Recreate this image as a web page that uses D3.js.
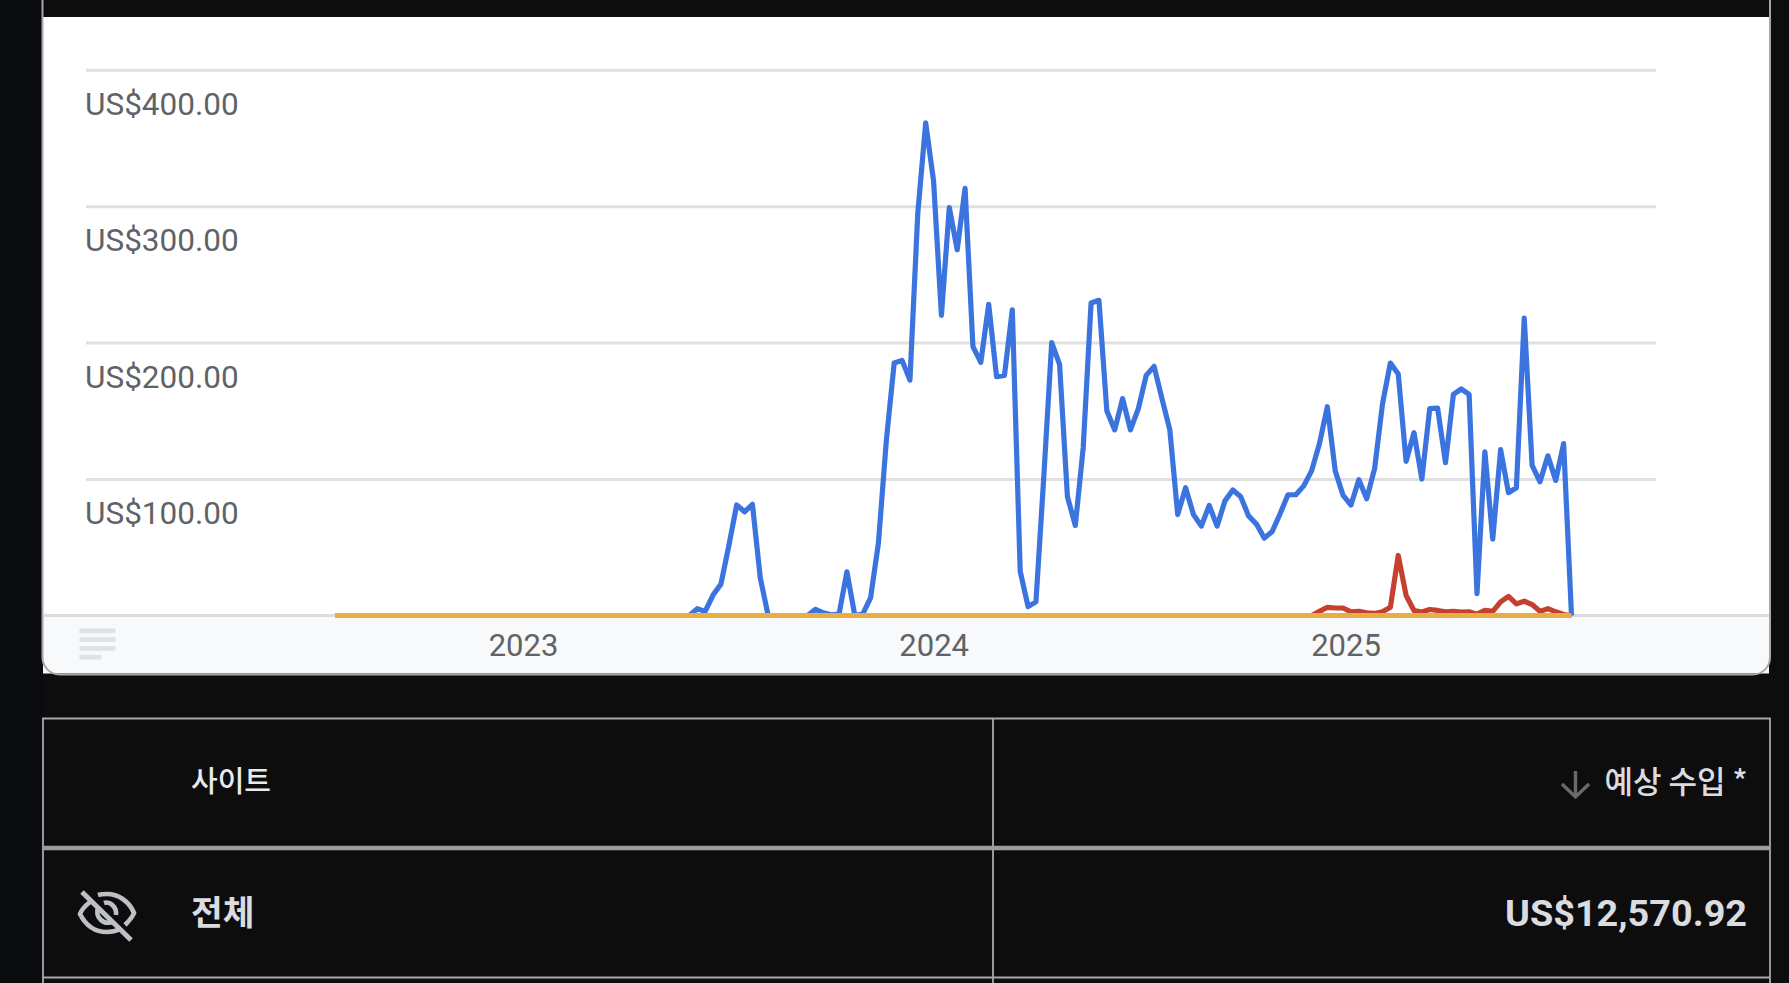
<!DOCTYPE html>
<html><head><meta charset="utf-8">
<script src="https://cdn.jsdelivr.net/npm/d3@7/dist/d3.min.js"></script>
<style>
html,body{margin:0;padding:0;background:#0a0b0e;overflow:hidden}
svg{display:block}
text{font-family:Roboto,"Noto Sans CJK KR",sans-serif}
.ko{font-family:"Noto Sans CJK KR",Roboto,sans-serif}
</style></head><body>
<svg id="c" width="1789" height="983"></svg>
<script>
const firstWeek = "2022-07-17";
const blueValues = [
0,0,0,0,0,0,0,0,0,0,0,0,0,0,0,0,0,0,0,0,0,0,0,0,0,0,0,0,0,0,0,0,0,0,0,0,0,0,0,0,0,0,0,0,0,0,
5,3,15,23,51,81,76,81.5,27.5,0,0,0,0,0,0,4.5,2,0.5,1,32,0,1,13,53,128,185,187,172.5,295,361,
318.5,220,299,268,313,197,185.5,228,175,176,224,32.5,6.5,10,102,200,184,87,66,123,229,231,150,136,159,
136,151.6,176,182.6,159,136,74,93.6,74,65.5,80.7,65.5,84,92,87,73,67,56.7,61.6,74.6,88.5,88.5,95,106,
126,153,106,88,81,99.5,85.6,107.6,155,185,177,113,134,100,151.6,152,112,162,166,162,16,120,56,121.5,
90,93.6,218,110,98,117,99,126,0];
const redValues = [
0,0,0,0,0,0,0,0,0,0,0,0,0,0,0,0,0,0,0,0,0,0,0,0,0,0,0,0,0,0,0,0,0,0,0,0,0,0,0,0,0,0,0,0,0,0,
0,0,0,0,0,0,0,0,0,0,0,0,0,0,0,0,0,0,0,0,0,0,0,0,0,0,0,0,0,0,0,0,0,0,0,0,0,0,0,0,0,0,0,0,0,0,
0,0,0,0,0,0,0,0,0,0,0,0,0,0,0,0,0,0,0,0,0,0,0,0,0,0,0,0,0,0,0,0,0,
3,6,5.5,5.5,2.7,3,2,1.5,2.7,6,44,14.7,3.7,2.5,4.4,3.7,2.7,3,2.5,2.7,1,3.7,3,10,14,8.5,10.5,8,3,5,2.7,0.7,0];
const orangeValues = [
0,0,0,0,0,0,0,0,0,0,0,0,0,0,0,0,0,0,0,0,0,0,0,0,0,0,0,0,0,0,0,0,0,0,0,0,0,0,0,0,0,0,0,0,0,0,
0,0,0,0,0,0,0,0,0,0,0,0,0,0,0,0,0,0,0,0,0,0,0,0,0,0,0,0,0,0,0,0,0,0,0,0,0,0,0,0,0,0,0,0,0,0,
0,0,0,0,0,0,0,0,0,0,0,0,0,0,0,0,0,0,0,0,0,0,0,0,0,0,0,0,0,0,0,0,0,
0,0,0,0,0,0,0,0,0,0,0,0,0,0,0,0,0,0,0,0,0,0,0,0,0,0,0,0,0,0,0,0,0];
const yTicks = [100,200,300,400];
const yearTicks = ["2023-01-01","2024-01-01","2025-01-01"];
const tableHeader = ["사이트","예상 수입 *"];
const totalRow = ["전체","US$12,570.92"];

const svg = d3.select("#c");
const bg="#0d0d0e", border="#a8a8a8";
svg.append("rect").attr("x",43).attr("y",0).attr("width",1746).attr("height",983).attr("fill",bg);

// card
svg.append("rect").attr("x",43).attr("y",17).attr("width",1726).attr("height",599).attr("fill","#fff");
svg.append("rect").attr("x",43).attr("y",616).attr("width",1726).attr("height",57.5).attr("fill","#f8f9fa");
svg.append("path").attr("fill","none").attr("stroke",border).attr("stroke-width",2)
  .attr("d","M42.5,0V657a17,17 0 0 0 17,17.5H1753a17,17 0 0 0 17,-17.5V0");

const parse=d3.utcParse("%Y-%m-%d");
const start=parse(firstWeek);
const dates=blueValues.map((_,i)=>d3.utcDay.offset(start,i*7));
const x=d3.scaleUtc().domain([dates[0],dates[dates.length-1]]).range([335,1571.5]);
const y=d3.scaleLinear().domain([0,400]).range([615.5,69.7]);

// grid + y labels
const gy=svg.append("g").attr("transform","translate(86,0)")
  .call(d3.axisRight(y).tickValues(yTicks).tickSize(1570).tickFormat(d=>"US$"+d3.format(".2f")(d)));
gy.select(".domain").remove();
gy.selectAll("line").attr("stroke","#e0e0e0").attr("stroke-width",3);
gy.selectAll("text").attr("x",-1).attr("dy",0).attr("y",44.5).attr("text-anchor","start")
  .attr("fill","#5f6368").style("font-size","31.5px").style("font-family","Roboto");

// baseline
svg.append("line").attr("x1",43.5).attr("x2",1769).attr("y1",y(0)).attr("y2",y(0))
  .attr("stroke","#dadce0").attr("stroke-width",3);

// x axis
const gx=svg.append("g").attr("transform","translate(-1,616)")
  .call(d3.axisBottom(x).tickValues(yearTicks.map(parse)).tickSize(0).tickFormat(d3.utcFormat("%Y")));
gx.select(".domain").remove();
gx.selectAll("text").attr("y",39.5).attr("dy",0).attr("fill","#5f6368")
  .style("font-size","31px").style("font-family","Roboto");

// series
const line=d3.line().x((d,i)=>x(dates[i])).y(d=>y(d));
[[blueValues,"#3b73df"],[redValues,"#c5402f"],[orangeValues,"#e9ae42"]].forEach(([v,c])=>{
  svg.append("path").datum(v).attr("d",line).attr("fill","none").attr("stroke",c)
    .attr("stroke-width",5.2).attr("stroke-linejoin","round");
});

// footer menu icon
svg.append("g").selectAll("rect").data([36,36,36,22]).join("rect")
  .attr("x",79.5).attr("y",(d,i)=>628.5+i*8.8).attr("width",d=>d).attr("height",4.6).attr("fill","#dfe1e5");

// table
svg.append("path").attr("fill","none").attr("stroke",border).attr("stroke-width",1.8)
  .attr("d","M43,983V718.5H1770V983M993,718.5V983M43,977.5H1770");
svg.append("line").attr("x1",43).attr("x2",1770).attr("y1",848).attr("y2",848).attr("stroke","#9c9d9f").attr("stroke-width",4.4);

svg.append("text").attr("class","ko").attr("x",191).attr("y",791.5).attr("fill","#e8eaed")
  .style("font-size","29px").style("font-weight",500).text(tableHeader[0]);
svg.append("text").attr("class","ko").attr("x",1747.5).attr("y",792.5).attr("text-anchor","end").attr("fill","#dadce0")
  .style("font-size","31px").style("font-weight",500).text(tableHeader[1]);
svg.append("path").attr("fill","none").attr("stroke","#6a6a6a").attr("stroke-width",3.4)
  .attr("d","M1575.5,771V796M1562,784L1575.5,797L1589,784");
svg.append("text").attr("class","ko").attr("x",191).attr("y",925).attr("fill","#dadce0")
  .style("font-size","34.5px").style("font-weight",700).text(totalRow[0]);
svg.append("text").attr("x",1747).attr("y",926).attr("text-anchor","end").attr("fill","#dadce0")
  .style("font-size","37.8px").style("font-weight",700).style("font-family","Roboto").text(totalRow[1]);

// eye-off icon
const eye=svg.append("g").attr("fill","none").attr("stroke","#bdc1c6").attr("stroke-width",4.6);
eye.append("path").attr("d","M90,902C85,906 81,911 80,914C86,926 96,932 107,932C112,932 116,931 120,929");
eye.append("path").attr("d","M98,895C101,894 104,894 107,894C118,894 129,901 134,913C132,918 129,921 125,925");
eye.append("path").attr("d","M98,908C95,917 103,925 112,922");
eye.append("path").attr("d","M104,903C110,901 117,907 116,915");
eye.append("line").attr("x1",82).attr("y1",892).attr("x2",131).attr("y2",940).attr("stroke-width",5);
</script></body></html>
